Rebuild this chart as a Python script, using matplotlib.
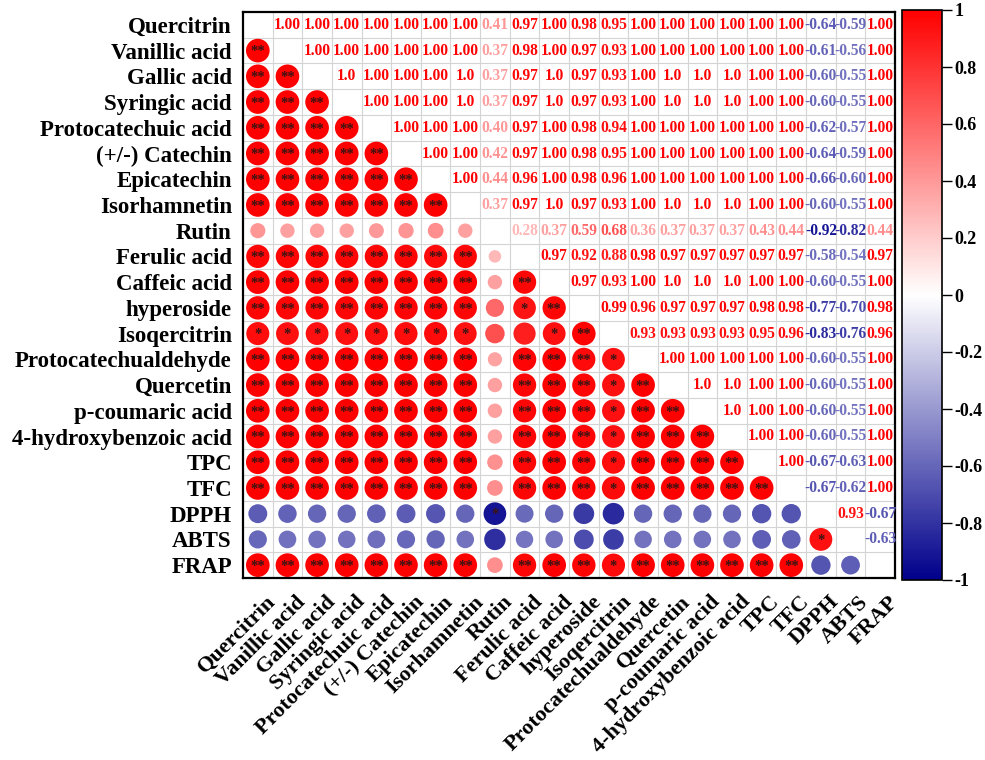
import numpy as np
import matplotlib
matplotlib.use("Agg")
import matplotlib.pyplot as plt
from matplotlib.colors import LinearSegmentedColormap, Normalize
from matplotlib.colorbar import ColorbarBase
from matplotlib.transforms import ScaledTranslation

variables = [
    "Quercitrin", "Vanillic acid", "Gallic acid", "Syringic acid",
    "Protocatechuic acid", "(+/-) Catechin", "Epicatechin", "Isorhamnetin",
    "Rutin", "Ferulic acid", "Caffeic acid", "hyperoside", "Isoqercitrin",
    "Protocatechualdehyde", "Quercetin", "p-coumaric acid",
    "4-hydroxybenzoic acid", "TPC", "TFC", "DPPH", "ABTS", "FRAP",
]

# Pearson r, upper triangle, row i holds columns i+1 .. end (as printed)
upper_text = [
    "1.00 1.00 1.00 1.00 1.00 1.00 1.00 0.41 0.97 1.00 0.98 0.95 1.00 1.00 1.00 1.00 1.00 1.00 -0.64 -0.59 1.00",
    "1.00 1.00 1.00 1.00 1.00 1.00 0.37 0.98 1.00 0.97 0.93 1.00 1.00 1.00 1.00 1.00 1.00 -0.61 -0.56 1.00",
    "1.0 1.00 1.00 1.00 1.0 0.37 0.97 1.0 0.97 0.93 1.00 1.0 1.0 1.0 1.00 1.00 -0.60 -0.55 1.00",
    "1.00 1.00 1.00 1.0 0.37 0.97 1.0 0.97 0.93 1.00 1.0 1.0 1.0 1.00 1.00 -0.60 -0.55 1.00",
    "1.00 1.00 1.00 0.40 0.97 1.00 0.98 0.94 1.00 1.00 1.00 1.00 1.00 1.00 -0.62 -0.57 1.00",
    "1.00 1.00 0.42 0.97 1.00 0.98 0.95 1.00 1.00 1.00 1.00 1.00 1.00 -0.64 -0.59 1.00",
    "1.00 0.44 0.96 1.00 0.98 0.96 1.00 1.00 1.00 1.00 1.00 1.00 -0.66 -0.60 1.00",
    "0.37 0.97 1.0 0.97 0.93 1.00 1.0 1.0 1.0 1.00 1.00 -0.60 -0.55 1.00",
    "0.28 0.37 0.59 0.68 0.36 0.37 0.37 0.37 0.43 0.44 -0.92 -0.82 0.44",
    "0.97 0.92 0.88 0.98 0.97 0.97 0.97 0.97 0.97 -0.58 -0.54 0.97",
    "0.97 0.93 1.00 1.0 1.0 1.0 1.00 1.00 -0.60 -0.55 1.00",
    "0.99 0.96 0.97 0.97 0.97 0.98 0.98 -0.77 -0.70 0.98",
    "0.93 0.93 0.93 0.93 0.95 0.96 -0.83 -0.76 0.96",
    "1.00 1.00 1.00 1.00 1.00 -0.60 -0.55 1.00",
    "1.0 1.0 1.00 1.00 -0.60 -0.55 1.00",
    "1.0 1.00 1.00 -0.60 -0.55 1.00",
    "1.00 1.00 -0.60 -0.55 1.00",
    "1.00 -0.67 -0.63 1.00",
    "-0.67 -0.62 1.00",
    "0.93 -0.67",
    "-0.63",
    "",
]

# significance marks, lower triangle, row i holds columns 0 .. i-1 ("-" = none)
lower_stars = [
    "",
    "**",
    "** **",
    "** ** **",
    "** ** ** **",
    "** ** ** ** **",
    "** ** ** ** ** **",
    "** ** ** ** ** ** **",
    "- - - - - - - -",
    "** ** ** ** ** ** ** ** -",
    "** ** ** ** ** ** ** ** - **",
    "** ** ** ** ** ** ** ** - * **",
    "* * * * * * * * - - * **",
    "** ** ** ** ** ** ** ** - ** ** ** *",
    "** ** ** ** ** ** ** ** - ** ** ** * **",
    "** ** ** ** ** ** ** ** - ** ** ** * ** **",
    "** ** ** ** ** ** ** ** - ** ** ** * ** ** **",
    "** ** ** ** ** ** ** ** - ** ** ** * ** ** ** **",
    "** ** ** ** ** ** ** ** - ** ** ** * ** ** ** ** **",
    "- - - - - - - - * - - - - - - - - - -",
    "- - - - - - - - - - - - - - - - - - - *",
    "** ** ** ** ** ** ** ** - ** ** ** * ** ** ** ** ** ** - -",
]

n = len(variables)
r = np.zeros((n, n))
labels = {}
for i, row in enumerate(upper_text):
    for k, tok in enumerate(row.split()):
        j = i + 1 + k
        r[i, j] = r[j, i] = float(tok)
        labels[(i, j)] = tok

cmap = LinearSegmentedColormap.from_list(
    "bwr_corr", [(0.0, "#00008B"), (0.5, "#FFFFFF"), (1.0, "#FF0000")])
norm = Normalize(-1, 1)

serif = "Liberation Serif"
fig = plt.figure(figsize=(9.85, 7.6), dpi=100)
W, H = 985, 760
ax = fig.add_axes([243 / W, (H - 578) / H, 652 / W, 566 / H])
ax.set_xlim(-0.5, n - 0.5)
ax.set_ylim(n - 0.5, -0.5)

# cell grid
for k in range(1, n):
    ax.axhline(k - 0.5, color="#d4d4d4", lw=0.8, zorder=0)
    ax.axvline(k - 0.5, color="#d4d4d4", lw=0.8, zorder=0)

full_area = 290.0
for i in range(n):
    for j in range(n):
        if i < j:
            v = r[i, j]
            ax.text(j, i, labels[(i, j)], ha="center", va="center",
                    fontsize=11.2, fontweight="bold", family=serif,
                    color=cmap(norm(v)), zorder=3)
        elif i > j:
            v = r[i, j]
            ax.scatter(j, i, s=full_area * abs(v), color=cmap(norm(v)),
                       edgecolors="none", zorder=2)
            mark = lower_stars[i].split()[j]
            if mark != "-":
                ax.text(j, i + 0.05, mark, ha="center", va="center",
                        fontsize=10.5, fontweight="bold", family=serif,
                        color="#3a1414", zorder=3)

ax.set_xticks(range(n))
ax.set_yticks(range(n))
ax.set_xticklabels(variables, rotation=45, ha="right",
                   rotation_mode="anchor", fontsize=16,
                   fontweight="bold", family=serif)
ax.set_yticklabels(variables, fontsize=16.5, fontweight="bold", family=serif)
ax.tick_params(axis="y", length=0, pad=8)
ax.tick_params(axis="x", length=0, pad=10)
shift = ScaledTranslation(8 / 100, 0, fig.dpi_scale_trans)
for t in ax.get_xticklabels():
    t.set_transform(t.get_transform() + shift)
for sp in ax.spines.values():
    sp.set_linewidth(1.6)
    sp.set_color("black")

cax = fig.add_axes([902 / W, (H - 580) / H, 40 / W, 570 / H])
cb = ColorbarBase(cax, cmap=cmap, norm=norm, orientation="vertical")
ticks = np.round(np.arange(-1, 1.01, 0.2), 1)
cb.set_ticks(ticks)
cb.set_ticklabels(["-1", "-0.8", "-0.6", "-0.4", "-0.2", "0",
                   "0.2", "0.4", "0.6", "0.8", "1"])
cax.tick_params(length=7, width=1, pad=2, labelsize=13)
for t in cax.get_yticklabels():
    t.set_fontweight("bold")
    t.set_family(serif)
cb.outline.set_linewidth(1.2)

fig.savefig("out.png", dpi=100)
